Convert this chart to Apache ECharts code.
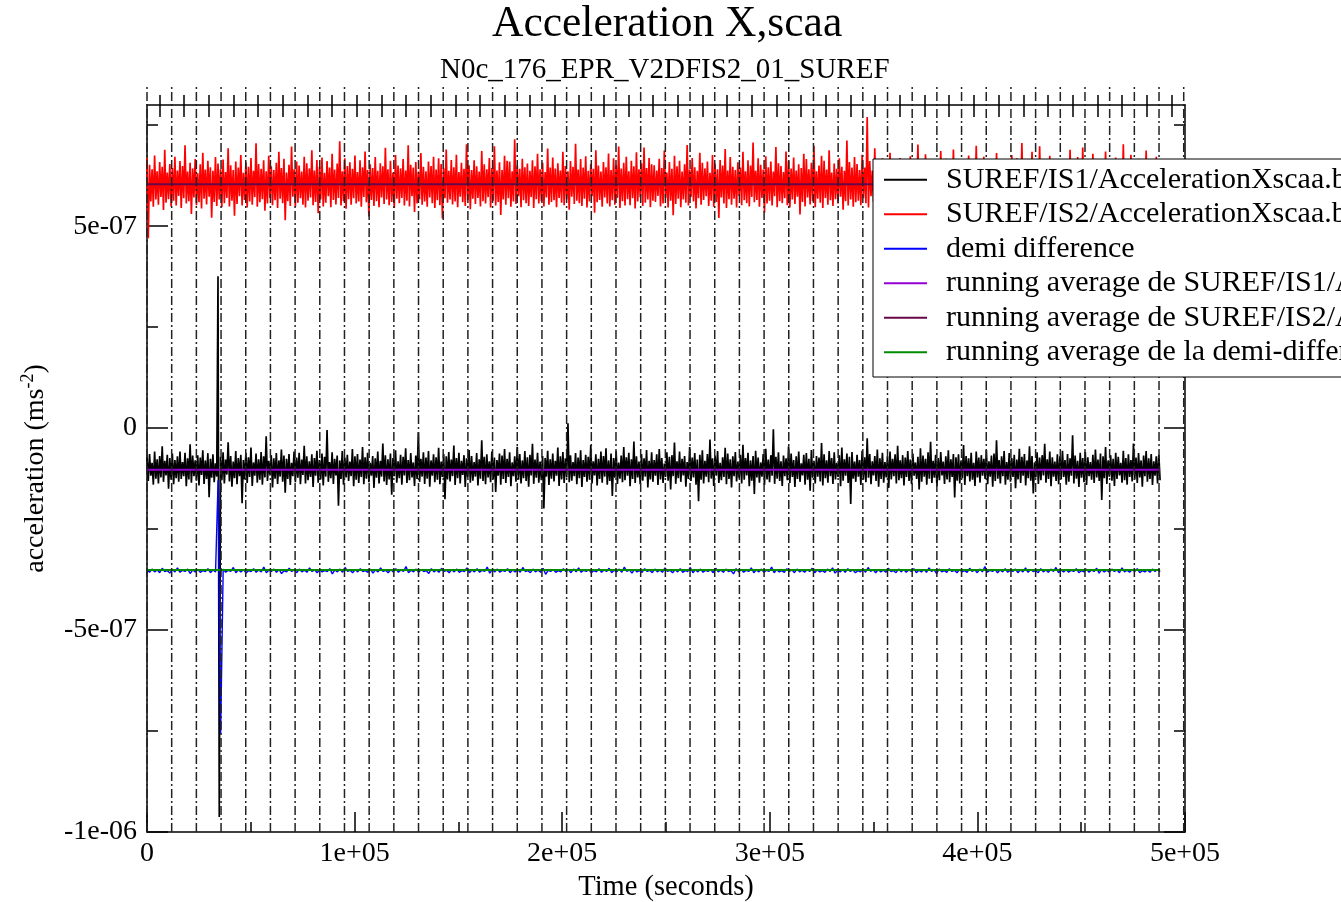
<!DOCTYPE html>
<html>
<head>
<meta charset="utf-8">
<script src="https://cdn.jsdelivr.net/npm/echarts@6/dist/echarts.min.js"></script>
<style>
  html, body { margin: 0; padding: 0; background: #fff; }
  #chart { width: 1341px; height: 902px; }
</style>
</head>
<body>
<div id="chart"></div>
<script>
// dash-dot marker lines (seconds) and the top-axis ticks between them
const markerTimes = [0, 11890, 23780, 35670, 47560, 59450, 71340, 83230, 95120, 107010, 118900,
  130790, 142680, 154570, 166460, 178350, 190240, 202130, 214020, 225910, 237800, 249690,
  261580, 273470, 285360, 297250, 309140, 321030, 332920, 344810, 356700, 368590, 380480,
  392370, 404260, 416150, 428040, 439930, 451820, 463710, 475600, 487490, 499380]
const topTickTimes = [5945, 17835, 29725, 41615, 53505, 65395, 77285, 89175, 101065, 112955,
  124845, 136735, 148625, 160515, 172405, 184295, 196185, 208075, 219965, 231855, 243745,
  255635, 267525, 279415, 291305, 303195, 315085, 326975, 338865, 350755, 362645, 374535,
  386425, 398315, 410205, 422095, 433985, 445875, 457765, 469655, 481545, 493435]

const yMajorTicks = [-1e-6, -5e-7, 0, 5e-7]
const yMinorTicks = [-7.5e-7, -2.5e-7, 2.5e-7, 7.5e-7]

// samples are uniformly spaced from 0 to sampleEnd seconds, values in 1e-9 m/s^2
const sampleEnd = 488000

const is1 = [
  -72,-131,-64,-118,-86,-140,-58,-125,-77,-137,-69,-122,-45,-133,-81,-117,-66,-150,-74,-128,
  -63,-139,-79,-124,-70,-133,-58,-126,-84,-119,-61,-144,-75,-127,-40,-135,-68,-119,-80,-130,
  -67,-142,-73,-116,-55,-138,-80,-126,-62,-171,-76,-123,-65,-134,-87,-120,376,-963,-71,-129,
  -60,-137,-78,-115,-35,-132,-69,-145,-83,-124,-57,-139,-74,-119,-66,-186,-79,-127,-61,-136,
  -72,-121,-48,-143,-85,-118,-63,-135,-77,-128,-59,-140,-70,-122,-20,-131,-81,-117,-67,-147,
  -75,-125,-62,-138,-80,-120,-53,-133,-68,-160,-76,-126,-64,-141,-86,-119,-58,-134,-73,-123,
  -61,-139,-78,-116,-44,-137,-70,-129,-82,-121,-65,-146,-74,-118,-56,-135,-79,-127,-63,-142,
  -71,-120,-5,-133,-84,-124,-60,-138,-76,-117,-68,-192,-80,-126,-57,-140,-73,-122,-66,-131,
  -83,-119,-52,-144,-70,-128,-64,-136,-78,-121,-47,-139,-72,-125,-61,-134,-86,-118,-69,-148,
  -75,-123,-58,-137,-81,-120,-38,-132,-67,-141,-77,-127,-63,-165,-74,-119,-55,-135,-82,-124,
  -66,-140,-71,-117,-50,-136,-79,-129,-62,-122,-85,-143,-68,-126,-10,-133,-76,-120,-60,-138,
  -73,-125,-57,-145,-80,-118,-65,-134,-72,-128,-49,-139,-83,-121,-64,-176,-70,-127,-59,-132,
  -78,-119,-43,-141,-74,-124,-61,-137,-81,-116,-67,-146,-75,-123,-54,-135,-69,-130,-84,-120,
  -62,-142,-77,-125,-30,-131,-71,-139,-65,-122,-82,-134,-58,-127,-73,-158,-79,-118,-63,-140,
  -68,-126,-52,-136,-76,-121,-60,-144,-85,-119,-70,-133,-46,-128,-64,-137,-80,-124,-57,-131,
  -72,-145,-66,-117,-39,-138,-78,-123,-61,-135,-83,-129,-69,-199,-74,-120,-56,-141,-77,-125,
  -63,-132,-81,-118,-48,-143,-70,-127,-59,-136,-75,-122,12,-134,-67,-130,-84,-119,-62,-139,
  -73,-124,-55,-146,-79,-121,-66,-133,-71,-128,-42,-137,-82,-117,-65,-142,-76,-126,-58,-135,
  -69,-120,-50,-140,-80,-131,-63,-168,-74,-123,-57,-138,-85,-125,-68,-134,-47,-129,-72,-118,
  -61,-144,-77,-126,-33,-136,-70,-122,-83,-139,-64,-130,-75,-120,-54,-147,-81,-127,-60,-133,
  -79,-118,-65,-141,-52,-127,-74,-136,-88,-121,-60,-130,-71,-152,-67,-119,-36,-138,-82,-124,
  -58,-133,-76,-117,-69,-145,-84,-126,-47,-131,-73,-122,-62,-140,-78,-181,-66,-128,-55,-137,
  -81,-120,-64,-134,-28,-125,-75,-143,-68,-118,-57,-136,-86,-129,-72,-121,-49,-139,-63,-126,
  -77,-147,-70,-119,-59,-132,-83,-124,-66,-137,-41,-128,-74,-117,-61,-144,-80,-130,-69,-163,
  -56,-122,-73,-135,-85,-120,-64,-141,-51,-127,-78,-134,-67,-118,-3,-138,-71,-125,-60,-131,
  -82,-143,-68,-119,-75,-129,-45,-136,-63,-121,-79,-146,-70,-126,-58,-133,-87,-117,-66,-140,
  -62,-128,-76,-155,-54,-123,-81,-137,-69,-120,-73,-132,-37,-142,-65,-124,-80,-135,-57,-119,
  -74,-138,-60,-127,-86,-121,-67,-144,-48,-130,-77,-118,-63,-136,-71,-188,-59,-125,-83,-133,
  -66,-120,-79,-141,-56,-128,-72,-134,-25,-123,-64,-139,-82,-117,-69,-131,-53,-145,-75,-126,
  -61,-135,-84,-122,-70,-148,-58,-127,-76,-119,-65,-137,-44,-129,-80,-124,-67,-142,-73,-121,
  -57,-131,-78,-139,-63,-118,-85,-126,-71,-152,-50,-133,-68,-120,-76,-140,-60,-125,-34,-136,
  -81,-123,-66,-144,-74,-129,-59,-117,-83,-138,-70,-127,-55,-134,-77,-121,-64,-172,-72,-130,
  -65,-137,-80,-124,-42,-141,-69,-119,-75,-132,-61,-128,-86,-143,-58,-122,-73,-135,-67,-118,
  -76,-126,-54,-139,-82,-120,-68,-145,-63,-131,-30,-125,-79,-137,-70,-119,-57,-140,-84,-128,
  -62,-133,-74,-121,-66,-149,-78,-127,-51,-136,-71,-118,-64,-142,-80,-124,-45,-130,-69,-162,
  -85,-122,-60,-138,-73,-129,-67,-117,-39,-135,-77,-126,-58,-144,-72,-120,-83,-131,-65,-139,
  -70,-127,-56,-121,-79,-140,-64,-133,-75,-118,-18,-137,-68,-125,-81,-146,-61,-123,-74,-134,
  -59,-141,-72,-119,-84,-128,-66,-136,-53,-122,-78,-131,-63,-178,-70,-124,-47,-138,-80,-120,
  -67,-130,-76,-143,-61,-126,-71,-117,-86,-135,-56,-129,-74,-140,-65,-121,-79,-132,-38,-127,
  -73,-136,-62,-122,-80,-145,-68,-119,-57,-133,-75,-126,-64,-141,-82,-118,-70,-137,-66,-129
]

const is2 = [
  668,470,652,561,641,548,675,566,636,553,659,572,647,540,689,558,633,567,654,549,
  644,563,672,551,638,575,661,545,649,569,700,556,635,562,657,530,643,571,666,552,
  631,559,653,544,682,568,640,554,662,573,646,521,637,560,671,550,655,566,641,547,
  665,557,634,570,693,549,651,563,639,526,660,555,645,574,676,551,632,565,658,546,
  647,561,669,553,637,572,705,548,654,559,642,567,663,538,636,556,674,570,648,552,
  639,564,657,545,684,568,644,557,667,515,633,562,652,550,697,573,641,548,660,558,
  650,569,635,553,672,546,656,563,643,571,688,552,638,560,664,532,647,566,670,549,
  632,558,661,574,645,547,679,565,640,554,655,570,710,551,636,562,668,543,649,567,
  658,553,642,569,675,556,634,561,663,548,646,572,685,559,639,524,653,565,644,550,
  671,562,637,547,656,571,648,555,694,566,641,552,662,560,633,545,676,568,650,557,
  643,570,666,551,638,563,700,549,652,574,645,535,659,556,635,567,681,553,647,561,
  636,548,660,571,649,557,672,545,640,564,668,552,654,519,643,569,690,558,637,566,
  664,554,646,561,677,547,634,573,657,559,642,550,703,565,651,542,639,568,663,555,
  648,570,635,549,686,562,653,556,641,572,669,546,644,563,698,551,638,560,658,528,
  639,566,674,553,662,569,660,548,636,561,715,555,650,574,642,547,667,564,646,557,
  655,550,637,572,663,545,648,567,679,556,641,562,657,549,634,571,692,553,645,560,
  670,564,643,547,656,570,638,558,684,552,649,566,636,541,661,573,647,555,704,563,
  640,557,666,550,645,568,673,546,637,561,654,574,642,533,688,559,650,565,635,548,
  659,571,646,556,680,549,639,564,668,553,651,570,697,545,643,562,657,551,672,567,
  636,552,662,569,648,544,683,561,641,572,656,550,695,558,644,566,669,547,653,563,
  651,560,638,575,667,549,644,556,687,570,633,546,659,563,642,527,674,555,648,568,
  662,547,635,566,653,558,701,551,640,572,669,561,646,544,637,569,682,553,657,565,
  643,574,660,550,632,563,676,548,655,560,641,520,664,571,650,556,691,545,638,567,
  671,553,647,568,639,546,658,575,645,552,684,564,636,557,663,549,650,572,707,559,
  637,565,668,548,652,570,640,534,673,556,646,563,660,551,635,574,696,547,656,562,
  649,557,634,569,685,552,661,546,643,566,670,555,638,573,653,529,644,560,679,549,
  666,571,641,554,657,562,699,547,636,568,650,558,674,545,662,570,640,553,688,564,
  633,550,655,567,642,556,668,573,647,541,637,562,712,551,659,566,645,548,671,559,
  654,563,639,552,677,569,645,557,770,546,661,574,638,560,693,549,651,565,636,555,
  668,548,650,571,643,554,682,562,635,567,656,544,647,572,669,558,640,531,663,550,
  645,566,673,553,638,570,660,546,702,561,649,556,634,573,678,552,657,564,641,547,
  659,558,637,568,652,545,686,563,644,551,667,570,639,525,655,560,690,554,646,569,
  634,572,664,549,656,561,641,556,675,547,648,567,636,553,699,565,662,550,643,571,
  672,555,645,563,633,548,658,569,650,537,681,557,640,566,665,552,647,574,638,561,
  653,546,676,571,642,559,668,553,637,565,706,549,655,562,641,570,661,544,684,556,
  640,567,651,552,698,560,635,573,663,548,646,557,674,566,639,530,657,554,645,568,
  666,550,638,564,655,571,643,547,689,558,660,563,634,551,671,569,648,556,695,562,
  644,573,662,546,637,559,679,568,652,554,640,572,666,543,657,561,685,550,639,566,
  658,555,641,570,670,548,646,563,636,557,703,552,663,569,644,547,677,560,650,565,
  637,562,667,551,653,572,640,545,687,559,648,566,661,553,635,570,672,556,654,563
]

const demi = [
  -352,-357,-349,-356,-351,-358,-347,-355,-353,-359,-350,-356,-346,-357,-352,-355,-349,-360,-351,-356,
  -350,-357,-353,-355,-348,-358,-351,-356,-129,-757,-349,-357,-352,-355,-345,-358,-351,-356,-350,-359,
  -353,-355,-348,-357,-351,-356,-344,-358,-352,-355,-349,-357,-350,-360,-353,-356,-347,-355,-351,-358,
  -349,-356,-352,-357,-346,-355,-351,-358,-350,-356,-353,-355,-348,-361,-351,-356,-349,-357,-345,-355,
  -352,-358,-350,-356,-348,-355,-353,-357,-349,-359,-351,-356,-346,-355,-352,-358,-350,-356,-348,-357,
  -351,-355,-343,-358,-352,-356,-349,-357,-350,-355,-353,-360,-348,-356,-351,-357,-347,-355,-352,-358,
  -350,-356,-349,-357,-353,-355,-346,-358,-351,-356,-348,-357,-352,-355,-344,-359,-350,-356,-349,-357,
  -352,-355,-348,-358,-351,-356,-350,-357,-345,-355,-353,-358,-349,-356,-351,-357,-347,-362,-352,-355,
  -350,-357,-353,-356,-348,-355,-351,-358,-349,-356,-346,-357,-352,-355,-350,-358,-353,-356,-348,-357,
  -351,-355,-347,-358,-352,-356,-349,-357,-344,-355,-351,-359,-350,-356,-353,-357,-348,-355,-352,-358,
  -349,-356,-351,-357,-346,-355,-352,-358,-350,-356,-348,-357,-353,-355,-345,-358,-351,-356,-349,-357,
  -352,-355,-350,-358,-347,-356,-351,-357,-349,-355,-353,-361,-348,-356,-350,-357,-352,-355,-346,-358,
  -351,-356,-349,-357,-352,-355,-344,-358,-350,-356,-353,-357,-348,-355,-351,-358,-349,-356,-352,-357,
  -350,-355,-347,-358,-351,-356,-353,-357,-349,-355,-346,-359,-352,-356,-350,-357,-348,-355,-351,-358,
  -353,-356,-349,-357,-345,-355,-351,-358,-350,-356,-352,-357,-347,-355,-353,-358,-349,-356,-350,-357,
  -351,-355,-348,-358,-352,-356,-350,-357,-346,-355,-351,-360,-349,-356,-353,-357,-348,-355,-352,-358,
  -350,-356,-353,-357,-347,-355,-351,-358,-349,-356,-343,-357,-352,-355,-350,-358,-351,-356,-348,-357,
  -352,-355,-349,-358,-351,-356,-346,-357,-350,-355,-353,-358,-348,-356,-351,-357,-349,-355,-345,-358,
  -351,-356,-350,-357,-352,-355,-348,-358,-353,-356,-349,-357,-351,-355,-347,-359,-350,-356,-352,-357,
  -349,-355,-351,-358,-346,-356,-352,-357,-350,-355,-348,-358,-353,-356,-351,-357,-349,-355,-350,-356
]

// running averages (flat over the record)
const avgTimes = [0, 488000]
const avgIS1 = [-103, -103]
const avgIS2 = [604, 604]
const avgDemi = [-351, -351]

const names = [
  'SUREF/IS1/AccelerationXscaa.bin',
  'SUREF/IS2/AccelerationXscaa.bin',
  'demi difference',
  'running average de SUREF/IS1/AccelerationXscaa.bin',
  'running average de SUREF/IS2/AccelerationXscaa.bin',
  'running average de la demi-difference'
]
const colors = ['#000000', '#ff0000', '#0000ff', '#9400d3', '#670748', '#008b00']

const FONT = 'Liberation Serif'

function toPairs(vals) {
  const dt = sampleEnd / (vals.length - 1)
  return vals.map((v, i) => [i * dt, v * 1e-9])
}
function avgPairs(vals) {
  return vals.map((v, i) => [avgTimes[i], v * 1e-9])
}
function fmtExp(v) {
  if (v === 0) return '0'
  const parts = v.toExponential().split('e')
  const n = parseInt(parts[1])
  return parts[0] + 'e' + (n < 0 ? '-' : '+') + String(Math.abs(n)).padStart(2, '0')
}

let markerData = []
markerTimes.forEach(t => {
  markerData.push([t, 0], [t, 1], [t, null])
})

const chart = echarts.init(document.getElementById('chart'))

const lineSeries = (name, data, color, width, z) => ({
  name: name,
  type: 'line',
  data: data,
  xAxisIndex: 0,
  yAxisIndex: 0,
  showSymbol: false,
  symbol: 'none',
  color: color,
  lineStyle: { width: width, color: color },
  z: z,
  animation: false
})

const tickStyle = { color: '#000', width: 1.5 }
const lineOn = { show: true, onZero: false, lineStyle: { color: '#000', width: 1.5 } }
const lineOff = { show: false, onZero: false }

let option = {
  animation: false,
  textStyle: { fontFamily: FONT },
  title: [
    {
      text: 'Acceleration X,scaa',
      left: 487,
      top: -2,
      textStyle: { fontFamily: FONT, fontSize: 43.5, fontWeight: 'normal', color: '#000' }
    },
    {
      text: 'N0c_176_EPR_V2DFIS2_01_SUREF',
      left: 435,
      top: 51,
      textStyle: { fontFamily: FONT, fontSize: 29, fontWeight: 'normal', color: '#000' }
    }
  ],
  legend: {
    data: names,
    orient: 'vertical',
    left: 873,
    top: 159,
    icon: 'rect',
    itemWidth: 43,
    itemHeight: 2,
    itemGap: 3,
    padding: [5, 10, 9, 11],
    backgroundColor: '#fff',
    borderColor: '#000',
    borderWidth: 1,
    borderRadius: 0,
    z: 20,
    textStyle: { fontFamily: FONT, fontSize: 30, lineHeight: 31.5, color: '#000', padding: [0, 0, 0, 14] }
  },
  grid: [
    { left: 147, right: 156, top: 105, bottom: 70, containLabel: false, outerBoundsMode: 'none' },
    { left: 147, right: 156, top: 84, bottom: 70, containLabel: false, outerBoundsMode: 'none' }
  ],
  xAxis: [
    {
      type: 'value', gridIndex: 0, position: 'bottom',
      min: 0, max: 500000, interval: 100000,
      axisLine: lineOn,
      axisTick: { show: true, inside: true, length: 20, lineStyle: tickStyle },
      minorTick: { show: true, splitNumber: 2, length: 10, lineStyle: tickStyle },
      axisLabel: { fontFamily: FONT, fontSize: 28, color: '#000', margin: 8, formatter: fmtExp },
      splitLine: { show: false },
      name: 'Time (seconds)',
      nameLocation: 'middle',
      nameGap: 40,
      nameTextStyle: { fontFamily: FONT, fontSize: 28.5, color: '#000' }
    },
    {
      type: 'value', gridIndex: 0, position: 'top',
      min: 0, max: 500000,
      axisLine: lineOn,
      axisTick: { show: true, inside: true, length: 12, customValues: topTickTimes, lineStyle: tickStyle },
      axisLabel: { show: false },
      splitLine: { show: false }
    },
    {
      type: 'value', gridIndex: 0, position: 'top',
      min: 0, max: 500000,
      axisLine: lineOff,
      axisTick: { show: true, inside: false, length: 10, customValues: topTickTimes, lineStyle: tickStyle },
      axisLabel: { show: false },
      splitLine: { show: false }
    },
    {
      type: 'value', gridIndex: 1, show: false, min: 0, max: 500000
    }
  ],
  yAxis: [
    {
      type: 'value', gridIndex: 0, position: 'left',
      min: -1e-6, max: 8e-7,
      axisLine: lineOn,
      axisTick: { show: true, inside: true, length: 21, customValues: yMajorTicks, lineStyle: tickStyle },
      axisLabel: { fontFamily: FONT, fontSize: 28, color: '#000', margin: 10, customValues: yMajorTicks, formatter: fmtExp },
      splitLine: { show: false },
      name: '{a|acceleration (ms}{s|-2}{a|)}',
      nameLocation: 'middle',
      nameGap: 94,
      nameTextStyle: {
        fontFamily: FONT, color: '#000',
        rich: {
          a: { fontFamily: FONT, fontSize: 28, lineHeight: 34, color: '#000' },
          s: { fontFamily: FONT, fontSize: 18, lineHeight: 18, verticalAlign: 'top', color: '#000' }
        }
      }
    },
    {
      type: 'value', gridIndex: 0, position: 'left',
      min: -1e-6, max: 8e-7,
      axisLine: lineOff,
      axisTick: { show: true, inside: true, length: 11, customValues: yMinorTicks, lineStyle: tickStyle },
      axisLabel: { show: false },
      splitLine: { show: false }
    },
    {
      type: 'value', gridIndex: 0, position: 'right',
      min: -1e-6, max: 8e-7,
      axisLine: lineOn,
      axisTick: { show: true, inside: true, length: 21, customValues: yMajorTicks, lineStyle: tickStyle },
      axisLabel: { show: false },
      splitLine: { show: false }
    },
    {
      type: 'value', gridIndex: 0, position: 'right',
      min: -1e-6, max: 8e-7,
      axisLine: lineOff,
      axisTick: { show: true, inside: true, length: 11, customValues: yMinorTicks, lineStyle: tickStyle },
      axisLabel: { show: false },
      splitLine: { show: false }
    },
    {
      type: 'value', gridIndex: 1, show: false, min: 0, max: 1
    }
  ],
  series: [
    lineSeries(names[0], toPairs(is1), colors[0], 1.7, 2),
    lineSeries(names[1], toPairs(is2), colors[1], 1.7, 2),
    lineSeries(names[2], toPairs(demi), colors[2], 1.4, 3),
    lineSeries(names[3], avgPairs(avgIS1), colors[3], 2, 4),
    lineSeries(names[4], avgPairs(avgIS2), colors[4], 2, 4),
    lineSeries(names[5], avgPairs(avgDemi), colors[5], 2, 4),
    {
      name: 'markers',
      type: 'line',
      xAxisIndex: 3,
      yAxisIndex: 4,
      data: markerData,
      showSymbol: false,
      symbol: 'none',
      connectNulls: false,
      silent: true,
      z: 5,
      lineStyle: { color: '#222', width: 1.5, type: [9, 3, 2, 3] }
    }
  ]
}

chart.setOption(option)
</script>
</body>
</html>
